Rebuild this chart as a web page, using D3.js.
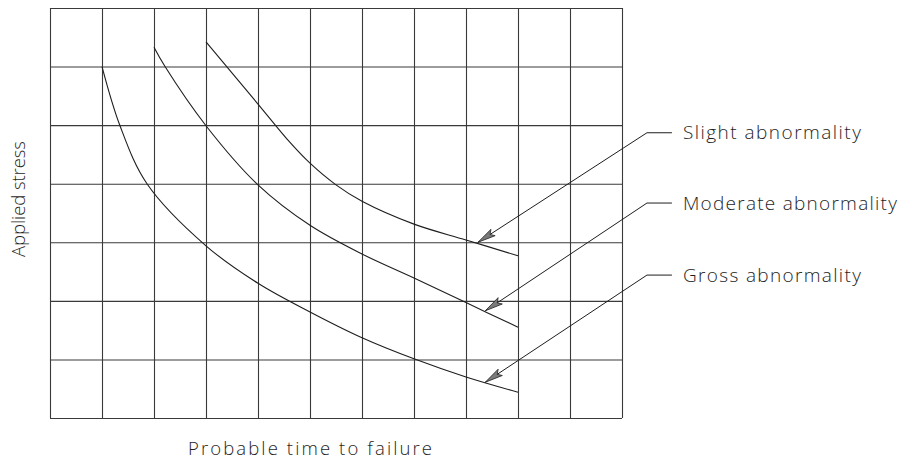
<!DOCTYPE html>
<html>
<head>
<meta charset="utf-8">
<script src="https://cdn.jsdelivr.net/npm/d3@7"></script>
<style>
  html, body { margin: 0; padding: 0; background: #fff; }
  svg { display: block; }
  text { font-family: "Open Sans", "DejaVu Sans", sans-serif; font-weight: 300; fill: #1e1e1e; }
</style>
</head>
<body>
<svg id="chart" width="899" height="462"></svg>
<script>
// ---- data (x: time units 0..11, y: stress units 0..7) ----
const xTicks = [0, 1, 2, 3, 4, 5, 6, 7, 8, 9, 10, 11];
const yTicks = [0, 1, 2, 3, 4, 5, 6, 7];

const grossX = [1.0, 1.346, 1.865, 3.0, 4.0, 5.0, 6.0, 7.0, 8.0, 9.0];
const grossY = [6.0, 4.99, 4.0, 2.94, 2.30, 1.81, 1.37, 1.01, 0.70, 0.44];

const moderateX = [2.0, 2.212, 3.0, 4.0, 5.0, 6.0, 7.0, 8.0, 9.0];
const moderateY = [6.33, 6.0, 4.99, 3.98, 3.29, 2.80, 2.39, 1.97, 1.55];

const slightX = [3.0, 4.0, 4.62, 5.0, 5.5, 6.0, 7.0, 8.0, 9.0];
const slightY = [6.42, 5.36, 4.70, 4.35, 3.98, 3.70, 3.31, 3.04, 2.77];

const labels = ["Slight abnormality", "Moderate abnormality", "Gross abnormality"];
const tipX = [8.23, 8.37, 8.37];
const tipY = [3.0, 1.83, 0.61];
const elbowX = [11.48, 11.48, 11.48];
const elbowY = [4.87, 3.67, 2.44];
const leaderEndX = [11.96, 11.96, 11.96];

const xTitle = "Probable time to failure";
const yTitle = "Applied stress";

// ---- layout ----
const svg = d3.select("#chart");
const mLeft = 50, mRight = 622, mTop = 8, mBottom = 418;
const x = d3.scaleLinear().domain([0, 11]).range([mLeft, mRight]);
const y = d3.scaleLinear().domain([0, 7]).range([mBottom, mTop]);

// grid via axes
svg.append("g")
  .attr("transform", `translate(0,${mBottom})`)
  .call(d3.axisBottom(x).tickValues(xTicks).tickSize(-(mBottom - mTop)).tickFormat(""))
  .call(g => g.select(".domain").remove())
  .call(g => g.selectAll("line").attr("stroke", "#3a3a3a").attr("stroke-width", 1.1));

svg.append("g")
  .attr("transform", `translate(${mLeft},0)`)
  .call(d3.axisLeft(y).tickValues(yTicks).tickSize(-(mRight - mLeft)).tickFormat(""))
  .call(g => g.select(".domain").remove())
  .call(g => g.selectAll("line").attr("stroke", "#3a3a3a").attr("stroke-width", 1.1));

// curves
const line = d3.line().x(d => x(d[0])).y(d => y(d[1])).curve(d3.curveCatmullRom.alpha(0.5));
const series = [
  d3.zip(slightX, slightY),
  d3.zip(moderateX, moderateY),
  d3.zip(grossX, grossY)
];
svg.append("g").selectAll("path").data(series).join("path")
  .attr("d", line)
  .attr("fill", "none")
  .attr("stroke", "#1e1e1e")
  .attr("stroke-width", 1.1);

// annotations
const ann = svg.append("g");
labels.forEach((lab, i) => {
  const tx = x(tipX[i]), ty = y(tipY[i]);
  const ex = x(elbowX[i]), ey = y(elbowY[i]);
  const lx = x(leaderEndX[i]);
  ann.append("polyline")
    .attr("points", `${tx},${ty} ${ex},${ey} ${lx},${ey}`)
    .attr("fill", "none").attr("stroke", "#1e1e1e").attr("stroke-width", 1);
  // arrowhead
  const ang = Math.atan2(ey - ty, ex - tx);
  const L = 18, W = 3.8;
  const bx = tx + L * Math.cos(ang), by = ty + L * Math.sin(ang);
  const nx = -Math.sin(ang), ny = Math.cos(ang);
  const mx = tx + (L * 0.8) * Math.cos(ang), my = ty + (L * 0.8) * Math.sin(ang);
  ann.append("path")
    .attr("d", `M${tx},${ty} L${bx + nx * W},${by + ny * W} L${mx},${my} L${bx - nx * W},${by - ny * W} Z`)
    .attr("fill", "#7a7a7a").attr("stroke", "#222").attr("stroke-width", 0.8);
  ann.append("text")
    .attr("x", lx + 11)
    .attr("y", ey + 6.5)
    .attr("font-size", 19)
    .attr("textLength", lab.length > 18 ? 214 : 178)
    .attr("lengthAdjust", "spacing")
    .text(lab);
});

// axis titles
svg.append("text")
  .attr("x", (mLeft + mRight) / 2 - 26)
  .attr("y", 455)
  .attr("text-anchor", "middle")
  .attr("font-size", 18.5)
  .attr("textLength", 244)
  .attr("lengthAdjust", "spacing")
  .text(xTitle);

svg.append("text")
  .attr("transform", `translate(25,199) rotate(-90)`)
  .attr("text-anchor", "middle")
  .attr("font-size", 18.5)
  .attr("textLength", 116)
  .attr("lengthAdjust", "spacing")
  .text(yTitle);
</script>
</body>
</html>
